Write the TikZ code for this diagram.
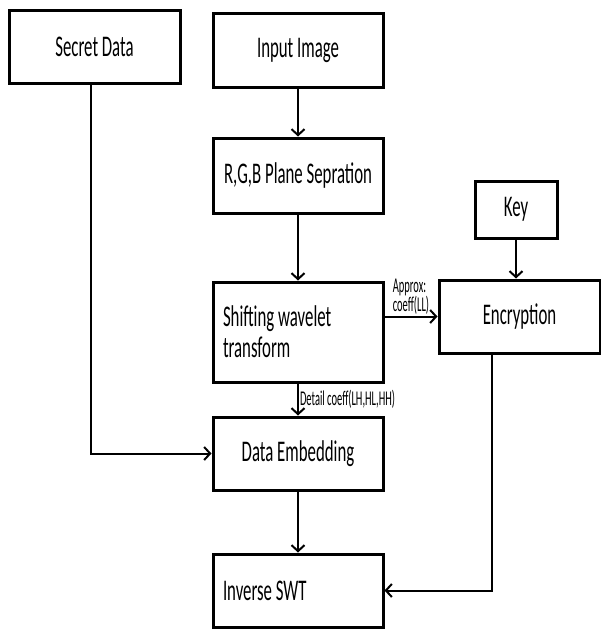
\documentclass[tikz,border=0pt]{standalone}
\usepackage{fontspec}
\setmainfont[FakeStretch=0.56]{Carlito}
\newfontfamily\labfont[FakeStretch=0.5]{Carlito}
\usetikzlibrary{arrows.meta}

\begin{document}
\begin{tikzpicture}[x=1pt,y=-1pt,
  block/.style={draw,line width=3pt,minimum width=170pt,minimum height=73pt,
    inner sep=0pt,font=\fontsize{30}{31}\selectfont},
  leftblock/.style={block,text width=150pt,align=flush left},
  arr/.style={line width=2pt,-{Straight Barb[length=6pt,width=13pt,line width=2pt]}},
  lab/.style={font=\labfont\fontsize{21}{19}\selectfont,inner sep=1pt}]

% bounding box
\useasboundingbox (0,0) rectangle (600,640);

% blocks
\node[block,minimum width=171pt] (secret) at (94.5,46.5) {Secret Data};
\node[block,minimum height=74pt] (input) at (298,50) {Input Image};
\node[block,minimum height=75pt] (rgb) at (298,175.5) {R,G,B Plane Sepration};
\node[leftblock,minimum height=100pt] (swt) at (298,332) {Shifting wavelet\\transform};
\node[block] (embed) at (298,453.5) {Data Embedding};
\node[leftblock] (inverse) at (298,590.5) {Inverse SWT};

% key and encryption
\node[block,minimum width=82pt,minimum height=57pt] (key) at (516,209.5) {Key};
\node[block,minimum width=161pt] (enc) at (519.5,316.5) {Encryption};

% arrows
\draw[arr] (input) -- (rgb);
\draw[arr] (rgb) -- (swt);
\draw[arr] (swt.east |- enc.west) -- (enc.west)
  node[lab,pos=0.5,above,align=left] {Approx:\\coeff(LL)};
\draw[arr] (key.south) -- (key.south |- enc.north);
\draw[arr] (swt) -- (embed) node[lab,midway,right] {Detail coeff(LH,HL,HH)};
\draw[arr] ([xshift=-4pt]secret.south) |- (embed.west);
\draw[arr] (embed) -- (inverse);
\draw[arr] ([xshift=-28pt]enc.south) |- (inverse.east);

\end{tikzpicture}
\end{document}
